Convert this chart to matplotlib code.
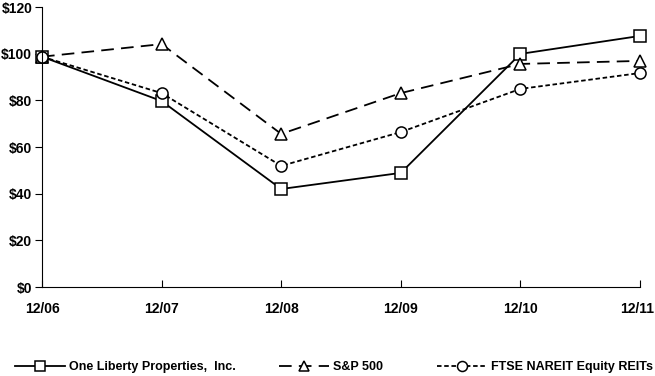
import matplotlib.pyplot as plt
from matplotlib.ticker import FuncFormatter
from matplotlib.transforms import ScaledTranslation

years = ['12/06', '12/07', '12/08', '12/09', '12/10', '12/11']
one_liberty = [98.7, 79.7, 42.0, 48.9, 99.9, 107.6]
sp500 = [98.7, 104.1, 65.6, 83.1, 95.6, 96.9]
ftse_nareit = [98.7, 83.1, 51.9, 66.4, 84.9, 91.7]
names = ['One Liberty Properties,  Inc.', 'S&P 500', 'FTSE NAREIT Equity REITs']

plt.rcParams['font.family'] = ['Liberation Sans', 'DejaVu Sans']
plt.rcParams['font.weight'] = 'bold'

fig = plt.figure(figsize=(6.55, 3.76), dpi=100)
ax = fig.add_axes([42 / 655, 1 - 287 / 376, 598 / 655, 280 / 376])

x = range(len(years))
style = dict(color='black', lw=1.3, ms=8, mfc='white', mec='black', mew=1.1)
l1, = ax.plot(x, one_liberty, ls='-', marker='s', label=names[0], **style)
l2, = ax.plot(x, sp500, ls=(0, (7, 4)), marker='^', label=names[1], **style)
l3, = ax.plot(x, ftse_nareit, ls=(0, (2.5, 1.5)), marker='o', label=names[2], **style)
for ln in (l1, l2, l3):
    ln.set_clip_on(False)

ax.set_xlim(0, len(years) - 1)
ax.set_ylim(0, 120)
ax.set_yticks(range(0, 121, 20))
ax.yaxis.set_major_formatter(FuncFormatter(lambda v, p: '$%d' % v))
ax.set_xticks(list(x))
ax.set_xticklabels(years)
ax.spines['top'].set_visible(False)
ax.spines['right'].set_visible(False)
ax.tick_params(axis='y', direction='out', length=5, labelsize=10, pad=2)
ax.tick_params(axis='x', direction='in', length=5, labelsize=10, pad=11)
# keep last date label inside the figure
last = ax.get_xticklabels()[-1]
last.set_transform(last.get_transform() + ScaledTranslation(-3 / 100, 0, fig.dpi_scale_trans))

# three separate legend entries placed along the bottom
xs = [15 / 655, 279 / 655, 437 / 655]
for ln, lx in zip((l1, l2, l3), xs):
    l = ln.get_label()
    fig.legend(handles=[ln], loc='center left', bbox_to_anchor=(lx, 1 - 367 / 376),
               frameon=False, fontsize=9, handlelength=4.0, handletextpad=0.3,
               borderaxespad=0, borderpad=0, markerscale=0.9)

fig.savefig('out.png', dpi=100)
